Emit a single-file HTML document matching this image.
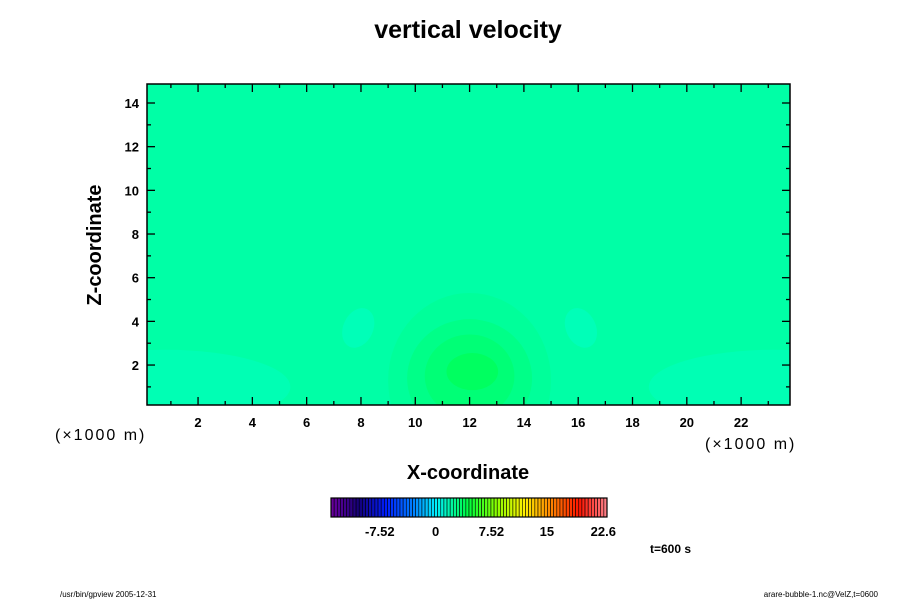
<!DOCTYPE html>
<html><head><meta charset="utf-8">
<style>
body{margin:0;background:#fff;}
svg{display:block;font-family:"Liberation Sans",sans-serif;}
</style></head>
<body>
<svg id="c" width="900" height="600" viewBox="0 0 900 600">
<text x="468" y="38" font-size="25" font-weight="bold" text-anchor="middle">vertical velocity</text>
<text x="468" y="479" font-size="20" font-weight="bold" text-anchor="middle">X-coordinate</text>
<text transform="translate(101,245) rotate(-90)" font-size="20" font-weight="bold" text-anchor="middle">Z-coordinate</text>
<text x="55" y="440" font-size="16" letter-spacing="2">(×1000 m)</text>
<text x="705" y="449" font-size="16" letter-spacing="2">(×1000 m)</text>
<text x="650" y="553" font-size="12" font-weight="bold">t=600 s</text>
<text x="60" y="597" font-size="8">/usr/bin/gpview 2005-12-31</text>
<text x="878" y="597" font-size="8" text-anchor="end">arare-bubble-1.nc@VelZ,t=0600</text>
<g id="plot"></g>
<g id="cbar"></g>
</svg>
<script>
// contour regions (data units): x-centre, z-centre, x-radius, z-radius, fill
const contourNames=['left-low','right-low','left-blob','right-blob','bubble-1','bubble-2','bubble-3','bubble-core'];
const contourX=[0.8,23.2,7.9,16.1,12.0,12.0,12.0,12.1];
const contourZ=[1.0,1.0,3.7,3.7,1.3,1.4,1.5,1.7];
const contourRX=[4.6,4.6,0.55,0.55,3.0,2.3,1.65,0.95];
const contourRZ=[1.7,1.7,0.95,0.95,4.0,2.7,1.9,0.85];
const contourFill=['#00ffb4','#00ffb4','#00ffb8','#00ffb8','#00ff9a','#00ff88','#00ff76','#00ff60'];
const xTicks=[2,4,6,8,10,12,14,16,18,20,22];
const zTicks=[2,4,6,8,10,12,14];
const cbLabels=[-7.52,0,7.52,15,22.6];
const cbMin=-14.1, cbMax=23.1, cbCount=88;

const NS='http://www.w3.org/2000/svg';
const L=147,R=790,T=84,B=405;
const x0=0.12,x1=23.8,z0=0.17,z1=14.87;
const sx=v=>L+(v-x0)/(x1-x0)*(R-L);
const sz=v=>B-(v-z0)/(z1-z0)*(B-T);
function mk(tag,at,parent){const e=document.createElementNS(NS,tag);for(const k in at)e.setAttribute(k,at[k]);parent.appendChild(e);return e;}
const plot=document.getElementById('plot');
const defs=mk('defs',{},plot);
const cp=mk('clipPath',{id:'clip'},defs);
mk('rect',{x:L,y:T,width:R-L,height:B-T},cp);
let bg=mk('rect',{x:L,y:T,width:R-L,height:B-T,fill:'#00ffa6'},plot);


const cg=mk('g',{'clip-path':'url(#clip)'},plot);
for(let i=0;i<contourX.length;i++){
  const cx=sx(contourX[i]),cy=sz(contourZ[i]);
  const rx=sx(contourX[i]+contourRX[i])-cx, ry=cy-sz(contourZ[i]+contourRZ[i]);
  const e=mk('ellipse',{cx:cx,cy:cy,rx:rx,ry:ry,fill:contourFill[i]},cg);
  if(i==2)e.setAttribute('transform','rotate(25 '+cx+' '+cy+')');
  if(i==3)e.setAttribute('transform','rotate(-25 '+cx+' '+cy+')');
  
  
}
let fr=mk('rect',{x:L,y:T,width:R-L,height:B-T,fill:'none',stroke:'#000','stroke-width':1.5},plot);


const tk=mk('g',{stroke:'#000','stroke-width':1.3},plot);
for(let v=1;v<=23;v++){const X=sx(v),len=v%2==0?8:4;
  mk('line',{x1:X,y1:B,x2:X,y2:B-len},tk);mk('line',{x1:X,y1:T,x2:X,y2:T+len},tk);}
for(let v=1;v<=14;v++){const Y=sz(v),len=v%2==0?8:4;
  mk('line',{x1:L,y1:Y,x2:L+len,y2:Y},tk);mk('line',{x1:R,y1:Y,x2:R-len,y2:Y},tk);}
xTicks.forEach(v=>{const t=mk('text',{x:sx(v),y:B+22,'font-size':13,'font-weight':'bold','text-anchor':'middle'},plot);t.textContent=v;
  
  });
zTicks.forEach(v=>{const t=mk('text',{x:L-8,y:sz(v)+5,'font-size':13,'font-weight':'bold','text-anchor':'end'},plot);t.textContent=v;
  
  });
// colorbar
const cb=document.getElementById('cbar');
const CL=331,CR=607,CT=498,CB=517;
const cx=v=>CL+(v-cbMin)/(cbMax-cbMin)*(CR-CL);
const stops=[[0,[110,0,160]],[0.1,[20,0,120]],[0.2,[0,30,255]],[0.3,[0,130,255]],[0.38,[0,240,255]],[0.5,[0,255,60]],[0.6,[140,255,0]],[0.7,[255,240,0]],[0.8,[255,130,0]],[0.9,[255,20,0]],[1,[255,130,140]]];
function col(f){for(let i=1;i<stops.length;i++){if(f<=stops[i][0]){const a=stops[i-1],b=stops[i],t=(f-a[0])/(b[0]-a[0]);return 'rgb('+a[1].map((c,j)=>Math.round(c+(b[1][j]-c)*t)).join(',')+')';}}return 'rgb(255,130,140)';}
const w=(CR-CL)/cbCount;
for(let i=0;i<cbCount;i++){const r=mk('rect',{x:CL+i*w,y:CT,width:w,height:CB-CT,fill:col((i+0.5)/cbCount),stroke:'#000','stroke-width':0.6},cb);
  
  }
mk('rect',{x:CL,y:CT,width:CR-CL,height:CB-CT,fill:'none',stroke:'#000','stroke-width':1.2},cb);
cbLabels.forEach(v=>{const t=mk('text',{x:cx(v),y:536,'font-size':13,'font-weight':'bold','text-anchor':'middle'},cb);t.textContent=v;
  
  });
</script>
</body></html>
